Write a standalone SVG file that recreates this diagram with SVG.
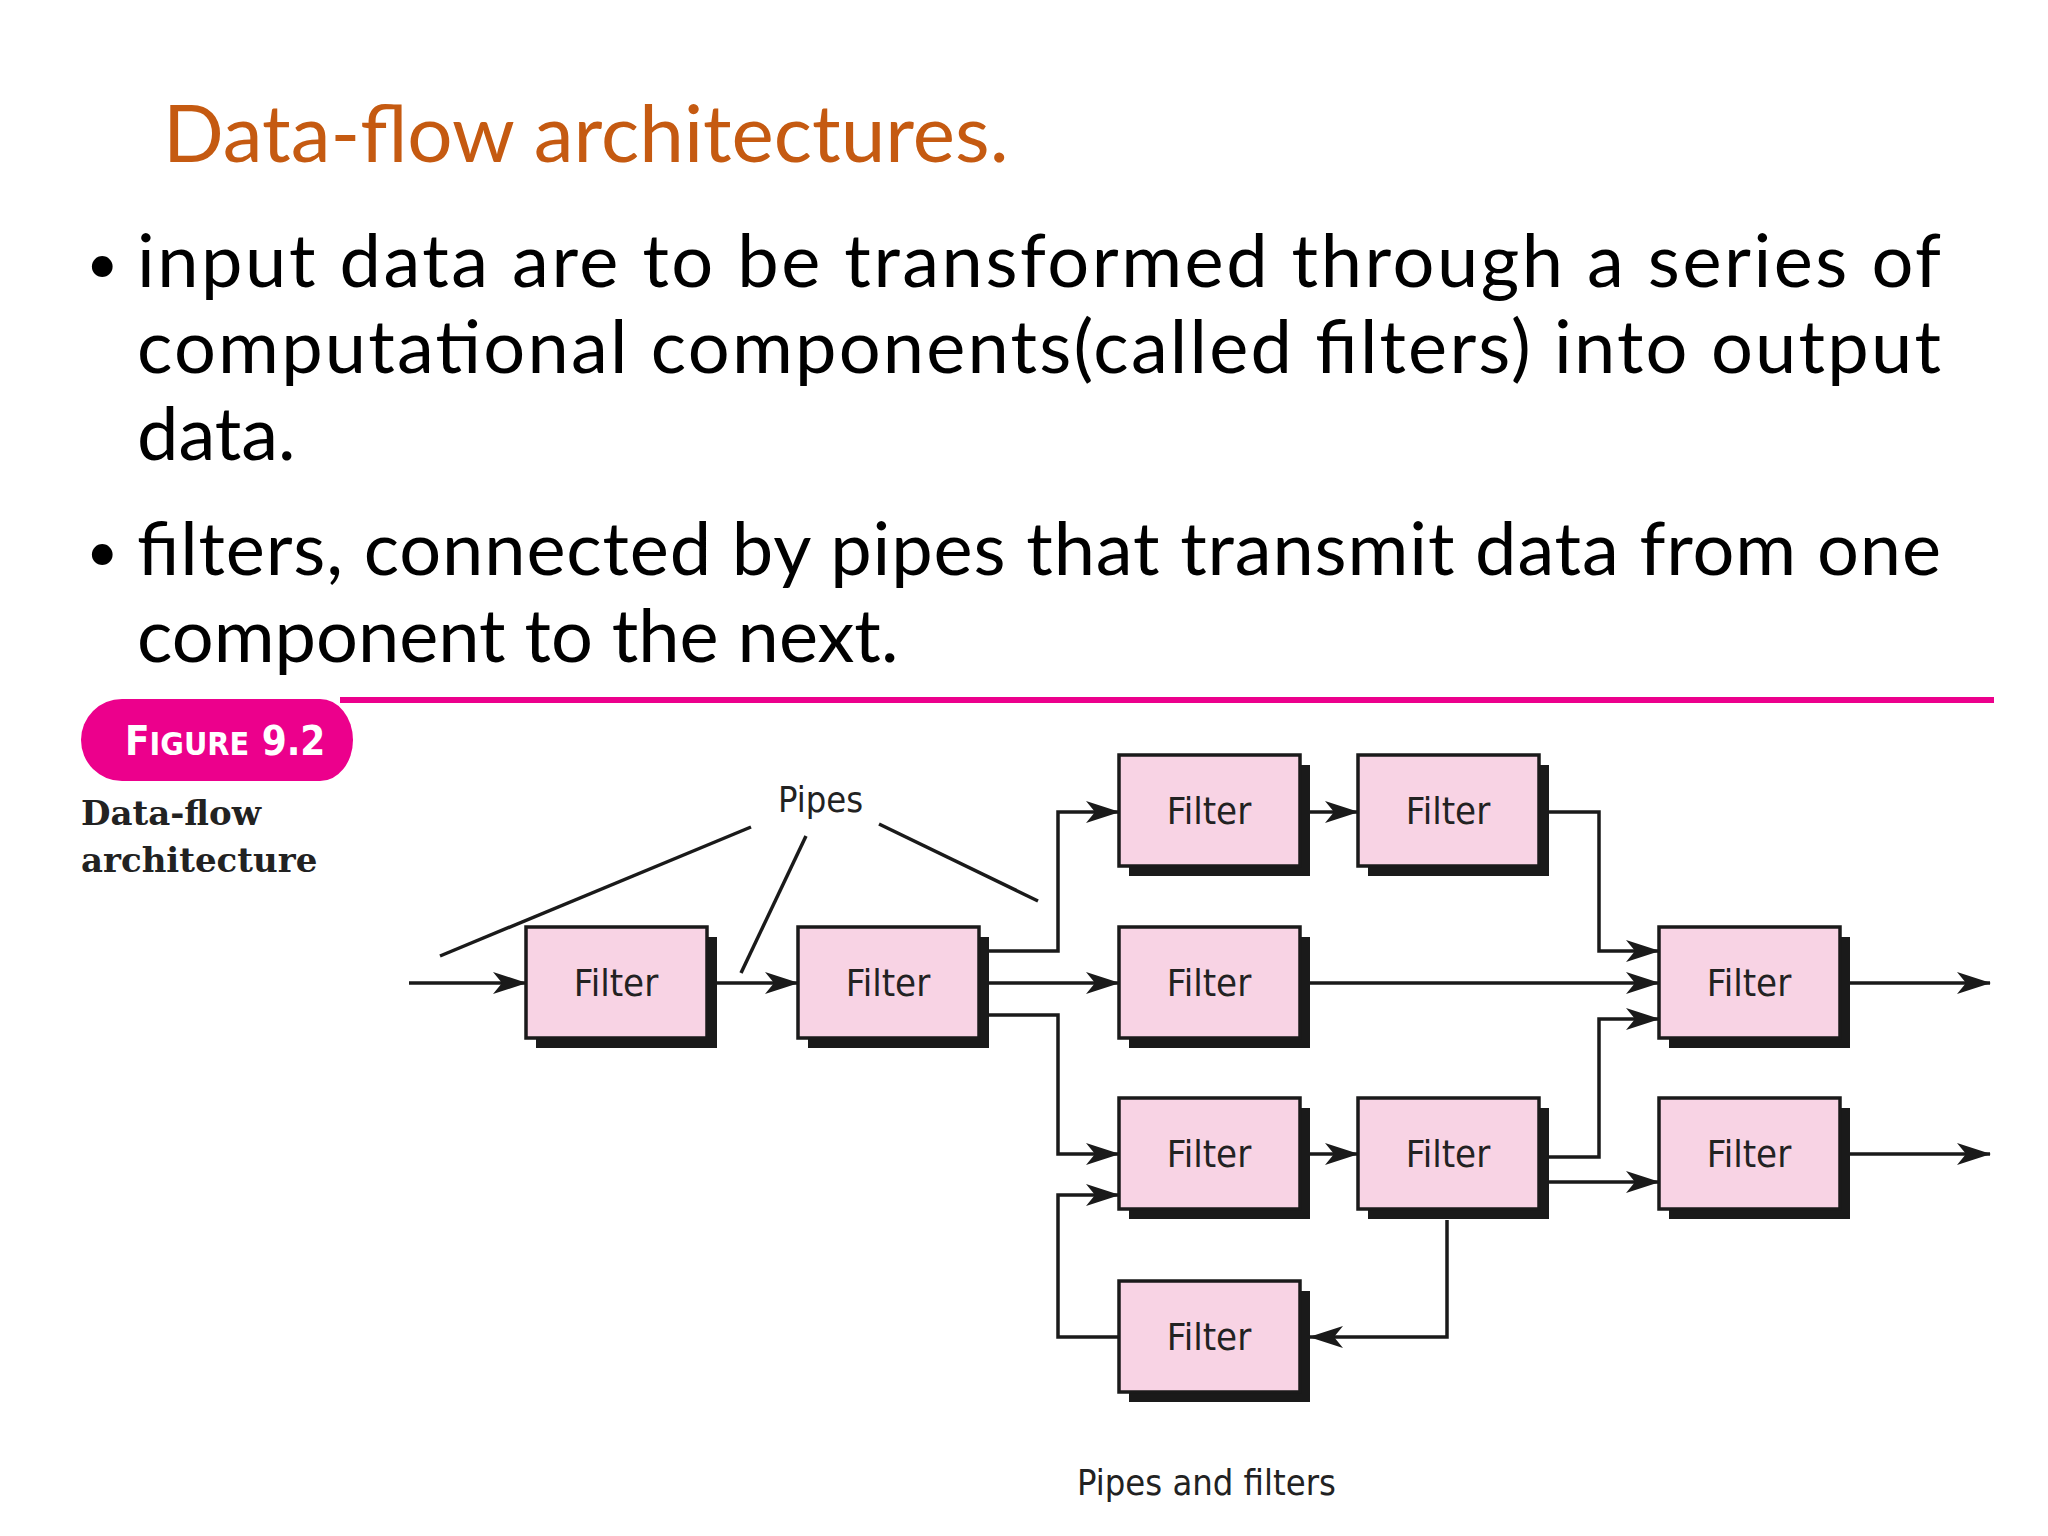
<svg xmlns="http://www.w3.org/2000/svg" width="2048" height="1536" viewBox="0 0 2048 1536">
<defs>
<marker id="ah" markerWidth="12" markerHeight="10" refX="11" refY="5" orient="auto" markerUnits="userSpaceOnUse" viewBox="0 0 12 10">
<path d="M0,0 L12,5 L0,10 L3,5 Z" fill="#1a1a1a"/>
</marker>
<marker id="a" markerWidth="34" markerHeight="22" refX="33" refY="11" orient="auto" markerUnits="userSpaceOnUse" viewBox="0 0 34 22">
<path d="M0,0 L34,11 L0,22 L9,11 Z" fill="#1a1a1a"/>
</marker>
</defs>
<style>
.t{font-family:Lato,"Noto Sans",sans-serif;fill:#000;font-size:74px}
.box{fill:#F8D3E4;stroke:#1a1a1a;stroke-width:3.5}
.sh{fill:#1a1a1a}
.fl{font-family:"DejaVu Sans","Liberation Sans",sans-serif;font-stretch:condensed;font-size:38px;fill:#222;text-anchor:middle}
.c{fill:none;stroke:#1a1a1a;stroke-width:3.5}
</style>
<rect width="2048" height="1536" fill="#fff"/>
<text x="163" y="162" font-family="Lato,'Noto Sans',sans-serif" font-size="80" fill="#C55A11">Data-flow architectures.</text>
<g class="t">
<text x="86" y="283" font-size="56">•</text>
<text x="137" y="287" textLength="1804" lengthAdjust="spacing">input data are to be transformed through a series of</text>
<text x="137" y="373" textLength="1804" lengthAdjust="spacing">computational components(called filters) into output</text>
<text x="137" y="460">data.</text>
<text x="86" y="571" font-size="56">•</text>
<text x="137" y="575" textLength="1804" lengthAdjust="spacing">filters, connected by pipes that transmit data from one</text>
<text x="137" y="662">component to the next.</text>
</g>
<g id="figlabel">
<line x1="340" y1="700" x2="1994" y2="700" stroke="#EC008C" stroke-width="6"/>
<path d="M122,699 H320 A33,41 0 0 1 353,740 A33,41 0 0 1 320,781 H122 A41,41 0 0 1 81,740 A41,41 0 0 1 122,699 Z" fill="#EC008C"/>
<text x="125" y="755" font-family="'DejaVu Sans',sans-serif" font-weight="bold" font-stretch="condensed" font-size="40" fill="#fff">F<tspan font-size="32">IGURE</tspan> 9.2</text>
<text x="81" y="825" font-family="'DejaVu Serif',serif" font-weight="bold" font-size="34" fill="#222">Data-flow</text>
<text x="81" y="872" font-family="'DejaVu Serif',serif" font-weight="bold" font-size="34" fill="#222">architecture</text>
</g>
<g id="connectors">
<line class="c" x1="409" y1="983" x2="526" y2="983" marker-end="url(#a)"/>
<line class="c" x1="717" y1="983" x2="798" y2="983" marker-end="url(#a)"/>
<polyline class="c" points="988,951 1058,951 1058,812 1119,812" marker-end="url(#a)"/>
<line class="c" x1="988" y1="983" x2="1119" y2="983" marker-end="url(#a)"/>
<polyline class="c" points="988,1015 1058,1015 1058,1154 1119,1154" marker-end="url(#a)"/>
<line class="c" x1="1310" y1="812" x2="1358" y2="812" marker-end="url(#a)"/>
<polyline class="c" points="1548,812 1599,812 1599,951 1659,951" marker-end="url(#a)"/>
<line class="c" x1="1310" y1="983" x2="1659" y2="983" marker-end="url(#a)"/>
<line class="c" x1="1310" y1="1154" x2="1358" y2="1154" marker-end="url(#a)"/>
<polyline class="c" points="1548,1157 1599,1157 1599,1019 1659,1019" marker-end="url(#a)"/>
<line class="c" x1="1548" y1="1182" x2="1659" y2="1182" marker-end="url(#a)"/>
<polyline class="c" points="1447,1220 1447,1337 1310,1337" marker-end="url(#a)"/>
<polyline class="c" points="1119,1337 1058,1337 1058,1195 1119,1195" marker-end="url(#a)"/>
<line class="c" x1="1849" y1="983" x2="1990" y2="983" marker-end="url(#a)"/>
<line class="c" x1="1849" y1="1154" x2="1990" y2="1154" marker-end="url(#a)"/>
<line class="c" x1="440" y1="956" x2="751" y2="827"/>
<line class="c" x1="741" y1="973" x2="806" y2="836"/>
<line class="c" x1="879" y1="824" x2="1038" y2="901"/>
</g>
<text x="778" y="812" font-family="'DejaVu Sans',sans-serif" font-stretch="condensed" font-size="36" fill="#222">Pipes</text>
<g id="f1"><rect class="sh" x="536" y="937" width="181" height="111"/><rect class="box" x="526" y="927" width="181" height="111"/><text class="fl" x="616" y="996">Filter</text></g>
<g id="f2"><rect class="sh" x="808" y="937" width="181" height="111"/><rect class="box" x="798" y="927" width="181" height="111"/><text class="fl" x="888" y="996">Filter</text></g>
<g id="f3"><rect class="sh" x="1129" y="765" width="181" height="111"/><rect class="box" x="1119" y="755" width="181" height="111"/><text class="fl" x="1209" y="824">Filter</text></g>
<g id="f4"><rect class="sh" x="1368" y="765" width="181" height="111"/><rect class="box" x="1358" y="755" width="181" height="111"/><text class="fl" x="1448" y="824">Filter</text></g>
<g id="f5"><rect class="sh" x="1129" y="937" width="181" height="111"/><rect class="box" x="1119" y="927" width="181" height="111"/><text class="fl" x="1209" y="996">Filter</text></g>
<g id="f6"><rect class="sh" x="1669" y="937" width="181" height="111"/><rect class="box" x="1659" y="927" width="181" height="111"/><text class="fl" x="1749" y="996">Filter</text></g>
<g id="f7"><rect class="sh" x="1129" y="1108" width="181" height="111"/><rect class="box" x="1119" y="1098" width="181" height="111"/><text class="fl" x="1209" y="1167">Filter</text></g>
<g id="f8"><rect class="sh" x="1368" y="1108" width="181" height="111"/><rect class="box" x="1358" y="1098" width="181" height="111"/><text class="fl" x="1448" y="1167">Filter</text></g>
<g id="f9"><rect class="sh" x="1669" y="1108" width="181" height="111"/><rect class="box" x="1659" y="1098" width="181" height="111"/><text class="fl" x="1749" y="1167">Filter</text></g>
<g id="f10"><rect class="sh" x="1129" y="1291" width="181" height="111"/><rect class="box" x="1119" y="1281" width="181" height="111"/><text class="fl" x="1209" y="1350">Filter</text></g>
<text x="1077" y="1495" font-family="'DejaVu Sans',sans-serif" font-stretch="condensed" font-size="36" fill="#222">Pipes and filters</text>
</svg>
